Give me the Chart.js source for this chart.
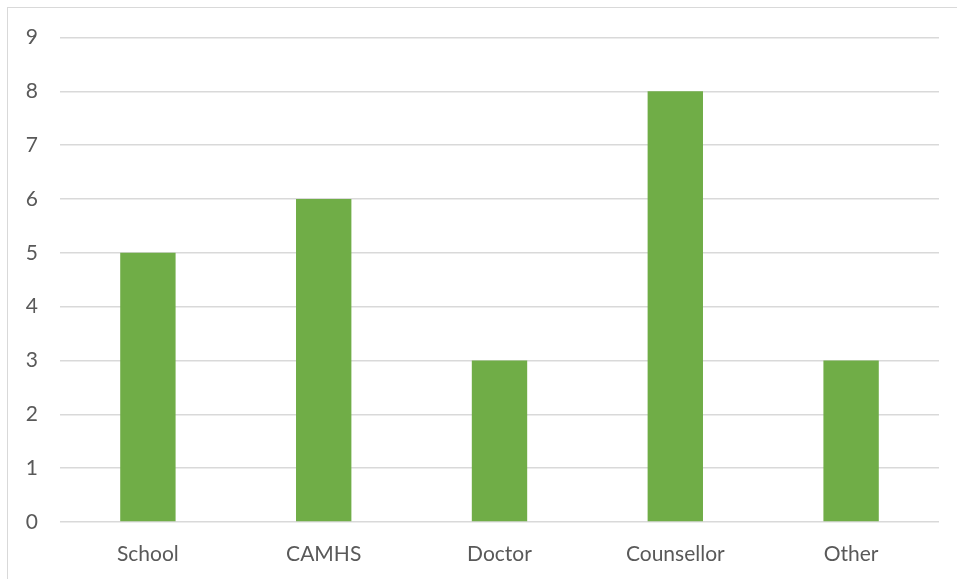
<!DOCTYPE html>
<html>
<head>
<meta charset="utf-8">
<script src="https://cdn.jsdelivr.net/npm/chart.js@4.4.1/dist/chart.umd.min.js"></script>
<style>
  html, body { margin: 0; padding: 0; background: #fff; }
  #wrap { position: relative; width: 957px; height: 579px; overflow: hidden; }
  #frame {
    position: absolute; left: 7px; top: 7px; width: 1000px; height: 1000px;
    border-left: 1.5px solid #d9d9d9; border-top: 1.5px solid #d9d9d9;
    box-sizing: border-box; pointer-events: none;
  }
  canvas { position: absolute; left: 0; top: 0; }
</style>
</head>
<body>
<div id="wrap">
  <canvas id="chart" width="957" height="579"></canvas>
  <div id="frame"></div>
</div>
<script>
// Categories and counts
const categories = ['School', 'CAMHS', 'Doctor', 'Counsellor', 'Other'];
const counts = [5, 6, 3, 8, 3];
const yTicks = [0, 1, 2, 3, 4, 5, 6, 7, 8, 9];

const gridColor = '#d9d9d9';
const textColor = '#595959';
const fontFamily = 'Lato, "Open Sans", sans-serif';

const ctx = document.getElementById('chart').getContext('2d');
new Chart(ctx, {
    type: 'bar',
    data: {
        labels: categories,
        datasets: [{
            data: counts,
            backgroundColor: '#70ad47',
            borderWidth: 0,
            categoryPercentage: 1,
            barPercentage: 0.315
        }]
    },
    options: {
        responsive: false,
        animation: false,
        layout: { padding: { top: 37.5, right: 18, left: 0, bottom: 0 } },
        plugins: {
            legend: { display: false },
            tooltip: { enabled: false }
        },
        scales: {
            x: {
                grid: { display: false, drawTicks: false },
                border: { display: false },
                ticks: {
                    color: textColor,
                    font: { family: fontFamily, size: 21 },
                    padding: 20,
                    maxRotation: 0
                },
                afterFit: (scale) => { scale.height = 57; }
            },
            y: {
                min: 0,
                max: 9,
                afterBuildTicks: (scale) => {
                    scale.ticks = yTicks.map(v => ({ value: v }));
                },
                grid: { color: gridColor, lineWidth: 1.5, drawTicks: false },
                border: { display: false },
                ticks: {
                    color: textColor,
                    font: { family: fontFamily, size: 21 },
                    padding: 22
                },
                afterFit: (scale) => { scale.width = 60; }
            }
        }
    }
});
</script>
</body>
</html>
